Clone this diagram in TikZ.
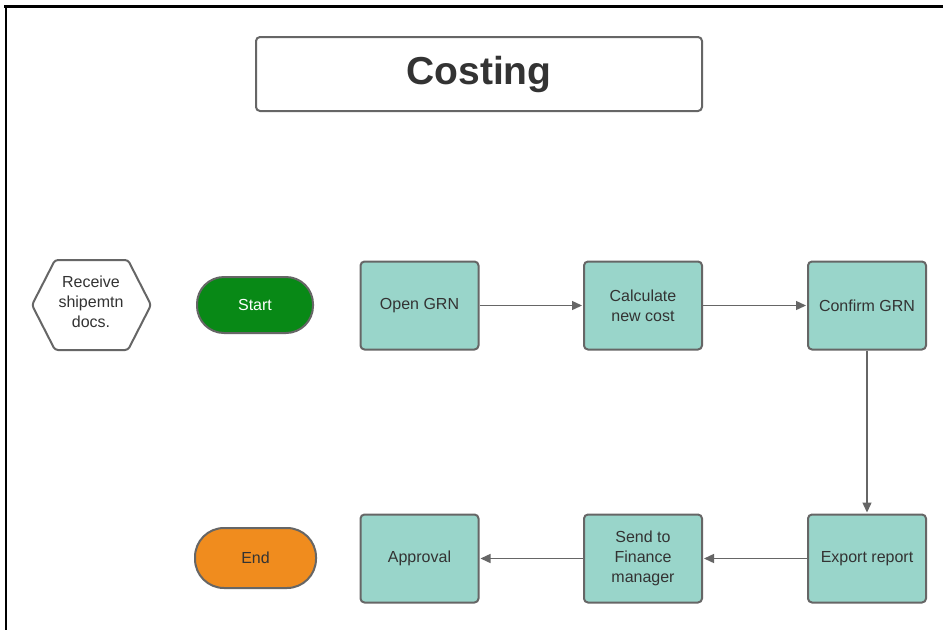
\documentclass[tikz,border=0pt]{standalone}
\usepackage{fontspec}
\setmainfont{Liberation Sans}
\usetikzlibrary{arrows.meta}
\definecolor{teal}{RGB}{153,213,202}
\definecolor{edge}{RGB}{102,102,102}
\definecolor{ink}{RGB}{51,51,51}
\definecolor{go}{RGB}{8,137,22}
\definecolor{stop}{RGB}{240,140,30}
\tikzset{
  x=1pt, y=-1pt,
  every node/.style={font=\fontsize{16}{20}\selectfont, text=ink, align=center},
  stepbox/.style={draw=edge, line width=2pt, fill=teal, rounded corners=4pt,
    minimum width=118pt, minimum height=88pt, inner sep=2pt},
  term/.style={draw=edge, line width=2pt, rounded corners=27pt,
    minimum width=116pt, minimum height=56pt},
  flow/.style={draw=edge, line width=1.4pt, -{Triangle[length=10pt,width=9pt]}, shorten >=1pt},
}
\begin{document}
\begin{tikzpicture}
\useasboundingbox (0,0) rectangle (943,630);
\fill[white] (0,0) rectangle (943,630);
% page frame (top and left edges)
\draw[line width=2.5pt] (4,6.5) -- (943,6.5);
\draw[line width=2.5pt] (6,5.5) -- (6,630);

% title
\node[draw=edge, line width=2pt, rounded corners=4pt, minimum width=446pt,
  minimum height=74pt, font=\fontsize{39}{44}\selectfont\bfseries] (title) at (479,74) {Costing};

% hexagon input
\draw[edge, line width=2pt, rounded corners=3pt]
  (32,305) -- (55,260) -- (128,260) -- (151,305) -- (128,350) -- (55,350) -- cycle;
\node (recv) at (91,302) {Receive\\shipemtn\\docs.};

% terminators
\node[term, fill=go, text=white, minimum width=116pt] (start) at (255,305) {Start};
\node[term, fill=stop, minimum width=121pt, minimum height=60pt, rounded corners=29pt] (end) at (255.5,558) {End};

% process steps
\node[stepbox] (open) at (419.5,305.5) {Open GRN};
\node[stepbox] (calc) at (643,305.5) {Calculate\\new cost};
\node[stepbox] (conf) at (867,305.5) {Confirm GRN};
\node[stepbox] (exp) at (867,558.5) {Export report};
\node[stepbox] (send) at (643,558.5) {Send to\\Finance\\manager};
\node[stepbox] (appr) at (419.5,558.5) {Approval};

% connectors
\draw[flow] (open) -- (calc);
\draw[flow] (calc) -- (conf);
\draw[flow] (conf) -- (exp);
\draw[flow] (exp) -- (send);
\draw[flow] (send) -- (appr);
\end{tikzpicture}
\end{document}
